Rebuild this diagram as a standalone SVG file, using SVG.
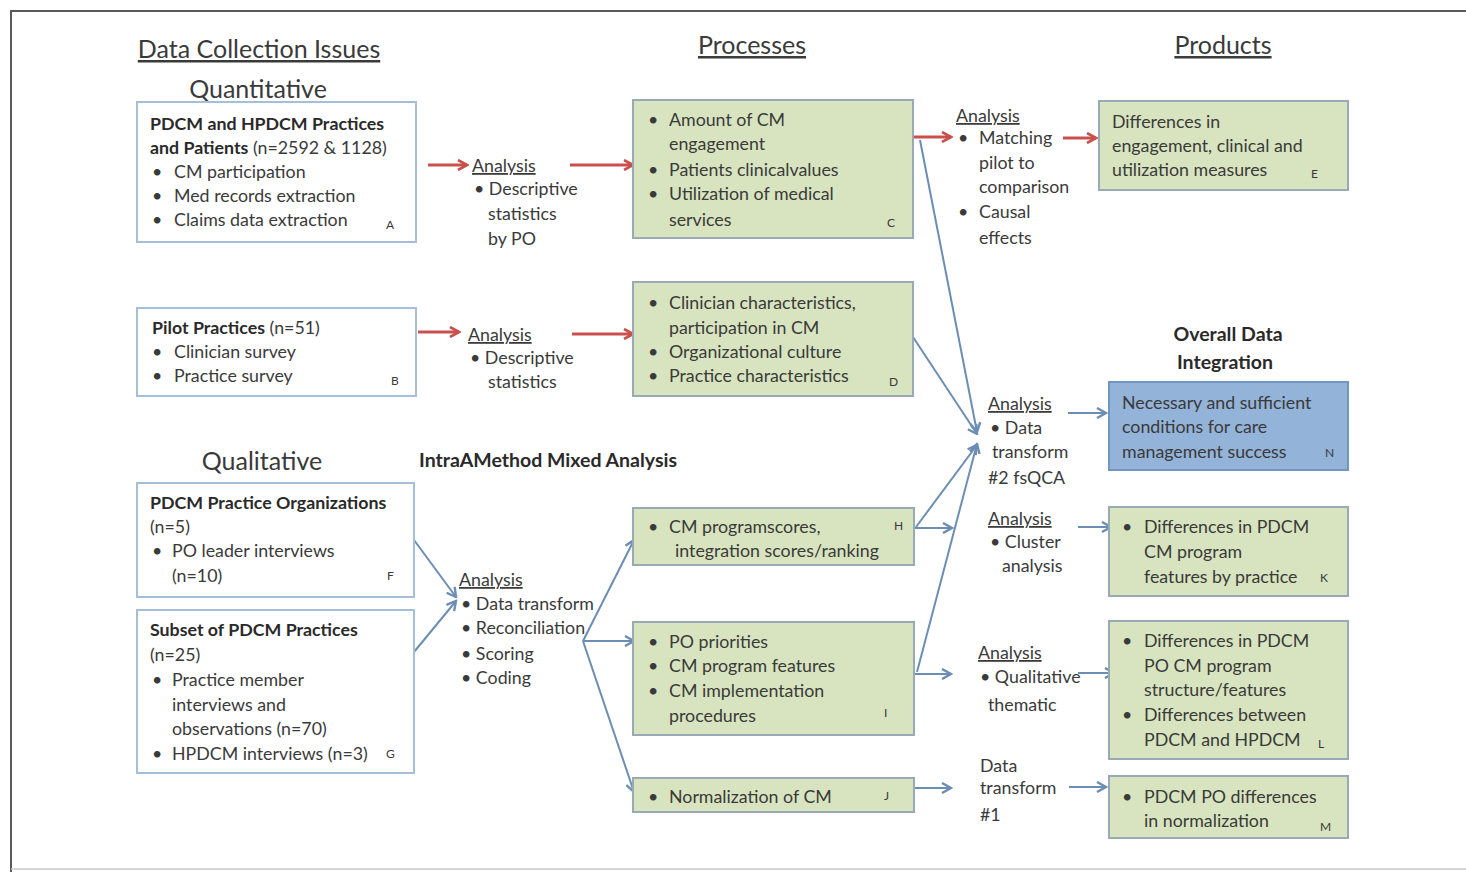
<svg xmlns="http://www.w3.org/2000/svg" width="1466" height="872" viewBox="0 0 1466 872">
  <defs>
    <marker id="redHead" viewBox="0 0 12 12" refX="10.5" refY="6" markerWidth="12" markerHeight="12" orient="auto" markerUnits="userSpaceOnUse">
      <path d="M1.5,1 L10.5,6 L1.5,11" fill="none" stroke="#c9504c" stroke-width="2.6" stroke-linejoin="miter"/>
    </marker>
    <marker id="blueHead" viewBox="0 0 12 12" refX="10.5" refY="6" markerWidth="12" markerHeight="12" orient="auto" markerUnits="userSpaceOnUse">
      <path d="M1.5,1 L10.5,6 L1.5,11" fill="none" stroke="#6c8db4" stroke-width="2.4" stroke-linejoin="miter"/>
    </marker>
    <style>
      text { font-family: Lato, "Open Sans", "Liberation Sans", sans-serif; fill: #3a3a3a; }
      .hd { font-size: 25px; text-decoration: underline; }
      .sub { font-size: 25px; }
      .bh { font-size: 19.5px; font-weight: bold; fill: #2a2a2a; }
      .t { font-size: 17.8px; }
      .b { font-weight: bold; fill: #2a2a2a; }
      .lt { font-size: 12px; }
      .u { text-decoration: underline; }
      .src { fill: #ffffff; stroke: #a6bfd8; stroke-width: 2; }
      .proc { fill: #d8e4bf; stroke: #98aab4; stroke-width: 2; }
      .fin { fill: #94b3d8; stroke: #7196c2; stroke-width: 2; }
      .red { fill: none; stroke: #c9504c; stroke-width: 3; marker-end: url(#redHead); }
      .blua { fill: none; stroke: #6c8db4; stroke-width: 2; marker-end: url(#blueHead); }
    </style>
  </defs>

  <!-- outer frame -->
  <path d="M11,872 V11 H1466" fill="none" stroke="#5a5a5a" stroke-width="2"/>
  <line x1="11" y1="869" x2="1466" y2="869" stroke="#c8c8c8" stroke-width="1.5"/>

  <!-- column headings -->
  <g id="headings">
    <text class="hd" x="259" y="58" text-anchor="middle">Data Collection Issues</text>
    <text class="hd" x="752" y="54" text-anchor="middle">Processes</text>
    <text class="hd" x="1223" y="54" text-anchor="middle">Products</text>
    <text class="sub" x="258" y="98" text-anchor="middle">Quantitative</text>
    <text class="sub" x="262" y="470" text-anchor="middle">Qualitative</text>
    <text class="bh" x="419" y="467">IntraAMethod Mixed Analysis</text>
    <text class="bh" x="1228" y="341" text-anchor="middle">Overall Data</text>
    <text class="bh" x="1225" y="369" text-anchor="middle">Integration</text>
  </g>

  <!-- connectors -->
  <g id="connectors">
    <line class="red" x1="428" y1="165" x2="467" y2="165"/>
    <line class="red" x1="570" y1="165" x2="633" y2="165"/>
    <line class="red" x1="418" y1="332" x2="459" y2="332"/>
    <line class="red" x1="572" y1="334" x2="633" y2="334"/>
    <line class="red" x1="913" y1="137" x2="951" y2="137"/>
    <line class="red" x1="1063" y1="138" x2="1096" y2="138"/>

    <line class="blua" x1="920" y1="140" x2="977" y2="432"/>
    <line class="blua" x1="913" y1="337" x2="977" y2="434"/>
    <line class="blua" x1="916" y1="527" x2="977" y2="445"/>
    <line class="blua" x1="917" y1="672" x2="977" y2="444"/>
    <line class="blua" x1="914" y1="528" x2="952" y2="528"/>
    <line class="blua" x1="914" y1="674" x2="951" y2="674"/>
    <line class="blua" x1="914" y1="788" x2="951" y2="788"/>

    <line class="blua" x1="1068" y1="413" x2="1106" y2="413"/>
    <line class="blua" x1="1078" y1="527" x2="1111" y2="527"/>
    <line class="blua" x1="1078" y1="673" x2="1114" y2="673"/>
    <line class="blua" x1="1069" y1="787" x2="1106" y2="787"/>

    <line class="blua" x1="414" y1="540" x2="456" y2="597"/>
    <line class="blua" x1="414" y1="652" x2="456" y2="601"/>
    <line class="blua" x1="583" y1="641" x2="634" y2="540"/>
    <line class="blua" x1="583" y1="641" x2="634" y2="641"/>
    <line class="blua" x1="583" y1="641" x2="634" y2="792"/>
  </g>

  <!-- data collection: quantitative -->
  <g id="nodeA">
    <rect class="src" x="137" y="102" width="279" height="140"/>
    <text class="t b" x="150" y="130">PDCM and HPDCM Practices</text>
    <text class="t" x="150" y="154"><tspan class="b">and Patients</tspan> (n=2592 &amp; 1128)</text>
    <text class="t" x="152" y="178">•</text><text class="t" x="174" y="178">CM participation</text>
    <text class="t" x="152" y="202">•</text><text class="t" x="174" y="202">Med records extraction</text>
    <text class="t" x="152" y="226">•</text><text class="t" x="174" y="226">Claims data extraction</text>
    <text class="lt" x="386" y="229">A</text>
  </g>

  <g id="nodeB">
    <rect class="src" x="137" y="308" width="279" height="88"/>
    <text class="t" x="152" y="334"><tspan class="b">Pilot Practices</tspan> (n=51)</text>
    <text class="t" x="152" y="358">•</text><text class="t" x="174" y="358">Clinician survey</text>
    <text class="t" x="152" y="382">•</text><text class="t" x="174" y="382">Practice survey</text>
    <text class="lt" x="391" y="385">B</text>
  </g>

  <!-- analysis labels -->
  <g id="analysisAC">
    <text class="t u" x="472" y="172">Analysis</text>
    <text class="t" x="474" y="195">• Descriptive</text>
    <text class="t" x="488" y="220">statistics</text>
    <text class="t" x="488" y="245">by PO</text>
  </g>
  <g id="analysisBD">
    <text class="t u" x="468" y="341">Analysis</text>
    <text class="t" x="470" y="364">• Descriptive</text>
    <text class="t" x="488" y="388">statistics</text>
  </g>

  <!-- processes -->
  <g id="nodeC">
    <rect class="proc" x="633" y="100" width="280" height="138"/>
    <text class="t" x="648" y="126">•</text><text class="t" x="669" y="126">Amount of CM</text>
    <text class="t" x="669" y="150">engagement</text>
    <text class="t" x="648" y="176">•</text><text class="t" x="669" y="176">Patients clinicalvalues</text>
    <text class="t" x="648" y="200">•</text><text class="t" x="669" y="200">Utilization of medical</text>
    <text class="t" x="669" y="226">services</text>
    <text class="lt" x="887" y="227">C</text>
  </g>

  <g id="nodeD">
    <rect class="proc" x="633" y="282" width="280" height="114"/>
    <text class="t" x="648" y="309">•</text><text class="t" x="669" y="309">Clinician  characteristics,</text>
    <text class="t" x="669" y="334">participation in CM</text>
    <text class="t" x="648" y="358">•</text><text class="t" x="669" y="358">Organizational culture</text>
    <text class="t" x="648" y="382">•</text><text class="t" x="669" y="382">Practice characteristics</text>
    <text class="lt" x="889" y="386">D</text>
  </g>

  <!-- products -->
  <g id="analysisCE">
    <text class="t u" x="956" y="122">Analysis</text>
    <text class="t" x="958" y="144">•</text><text class="t" x="979" y="144">Matching</text>
    <text class="t" x="979" y="169">pilot to</text>
    <text class="t" x="979" y="193">comparison</text>
    <text class="t" x="958" y="218">•</text><text class="t" x="979" y="218">Causal</text>
    <text class="t" x="979" y="244">effects</text>
  </g>

  <g id="nodeE">
    <rect class="proc" x="1099" y="101" width="249" height="89"/>
    <text class="t" x="1112" y="128">Differences in</text>
    <text class="t" x="1112" y="152">engagement, clinical and</text>
    <text class="t" x="1112" y="176">utilization measures</text>
    <text class="lt" x="1311" y="178">E</text>
  </g>

  <g id="analysisN">
    <text class="t u" x="988" y="410">Analysis</text>
    <text class="t" x="990" y="434">• Data</text>
    <text class="t" x="992" y="458">transform</text>
    <text class="t" x="988" y="484">#2 fsQCA</text>
  </g>

  <g id="nodeN">
    <rect class="fin" x="1109" y="382" width="239" height="88"/>
    <text class="t" x="1122" y="409">Necessary and sufficient</text>
    <text class="t" x="1122" y="433">conditions for care</text>
    <text class="t" x="1122" y="458">management success</text>
    <text class="lt" x="1325" y="457">N</text>
  </g>

  <!-- data collection: qualitative -->
  <g id="nodeF">
    <rect class="src" x="137" y="483" width="277" height="114"/>
    <text class="t b" x="150" y="509">PDCM Practice Organizations</text>
    <text class="t" x="150" y="533">(n=5)</text>
    <text class="t" x="152" y="557">•</text><text class="t" x="172" y="557">PO leader interviews</text>
    <text class="t" x="172" y="582">(n=10)</text>
    <text class="lt" x="387" y="580">F</text>
  </g>

  <g id="nodeG">
    <rect class="src" x="137" y="610" width="277" height="163"/>
    <text class="t b" x="150" y="636">Subset of PDCM Practices</text>
    <text class="t" x="150" y="661">(n=25)</text>
    <text class="t" x="152" y="686">•</text><text class="t" x="172" y="686">Practice member</text>
    <text class="t" x="172" y="711">interviews and</text>
    <text class="t" x="172" y="735">observations (n=70)</text>
    <text class="t" x="152" y="760">•</text><text class="t" x="172" y="760">HPDCM interviews (n=3)</text>
    <text class="lt" x="386" y="758">G</text>
  </g>

  <g id="analysisMixed">
    <text class="t u" x="459" y="586">Analysis</text>
    <text class="t" x="461" y="610">• Data transform</text>
    <text class="t" x="461" y="634">• Reconciliation</text>
    <text class="t" x="461" y="660">• Scoring</text>
    <text class="t" x="461" y="684">• Coding</text>
  </g>

  <g id="nodeH">
    <rect class="proc" x="633" y="508" width="281" height="57"/>
    <text class="t" x="648" y="533">•</text><text class="t" x="669" y="533">CM programscores,</text>
    <text class="t" x="675" y="557">integration scores/ranking</text>
    <text class="lt" x="894" y="530">H</text>
  </g>

  <g id="nodeI">
    <rect class="proc" x="633" y="622" width="281" height="113"/>
    <text class="t" x="648" y="648">•</text><text class="t" x="669" y="648">PO priorities</text>
    <text class="t" x="648" y="672">•</text><text class="t" x="669" y="672">CM program features</text>
    <text class="t" x="648" y="697">•</text><text class="t" x="669" y="697">CM implementation</text>
    <text class="t" x="669" y="722">procedures</text>
    <text class="lt" x="884" y="717">I</text>
  </g>

  <g id="nodeJ">
    <rect class="proc" x="633" y="778" width="281" height="34"/>
    <text class="t" x="648" y="803">•</text><text class="t" x="669" y="803">Normalization of CM</text>
    <text class="lt" x="884" y="800">J</text>
  </g>

  <g id="analysisK">
    <text class="t u" x="988" y="525">Analysis</text>
    <text class="t" x="990" y="548">• Cluster</text>
    <text class="t" x="1002" y="572">analysis</text>
  </g>

  <g id="nodeK">
    <rect class="proc" x="1109" y="507" width="239" height="89"/>
    <text class="t" x="1122" y="533">•</text><text class="t" x="1144" y="533">Differences in PDCM</text>
    <text class="t" x="1144" y="558">CM program</text>
    <text class="t" x="1144" y="583">features by practice</text>
    <text class="lt" x="1320" y="582">K</text>
  </g>

  <g id="analysisL">
    <text class="t u" x="978" y="659">Analysis</text>
    <text class="t" x="980" y="683">• Qualitative</text>
    <text class="t" x="988" y="711">thematic</text>
  </g>

  <g id="nodeL">
    <rect class="proc" x="1109" y="621" width="239" height="138"/>
    <text class="t" x="1122" y="647">•</text><text class="t" x="1144" y="647">Differences in PDCM</text>
    <text class="t" x="1144" y="672">PO CM program</text>
    <text class="t" x="1144" y="696">structure/features</text>
    <text class="t" x="1122" y="721">•</text><text class="t" x="1144" y="721">Differences between</text>
    <text class="t" x="1144" y="746">PDCM and HPDCM</text>
    <text class="lt" x="1318" y="748">L</text>
  </g>

  <g id="transformM">
    <text class="t" x="980" y="772">Data</text>
    <text class="t" x="980" y="794">transform</text>
    <text class="t" x="980" y="821">#1</text>
  </g>

  <g id="nodeM">
    <rect class="proc" x="1109" y="776" width="239" height="62"/>
    <text class="t" x="1122" y="803">•</text><text class="t" x="1144" y="803">PDCM PO differences</text>
    <text class="t" x="1144" y="827">in normalization</text>
    <text class="lt" x="1320" y="831">M</text>
  </g>
</svg>
